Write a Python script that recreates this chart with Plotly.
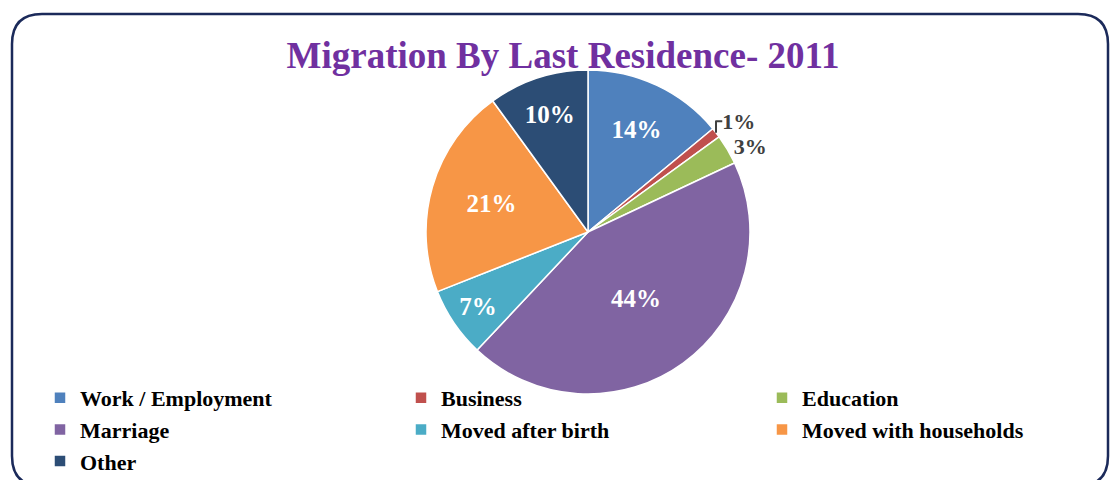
import plotly.graph_objects as go

categories = ["Work / Employment", "Business", "Education", "Marriage",
              "Moved after birth", "Moved with households", "Other"]
values = [14, 1, 3, 44, 7, 21, 10]
colors = ["#4F81BD", "#C0504D", "#9BBB59", "#8064A2", "#4BACC6", "#F79646", "#2C4D75"]

W, H = 1110, 480
def px(x): return x / W
def py(y): return 1 - y / H

SERIF = "Liberation Serif, Times New Roman, serif"

# small slices get their labels outside the pie so they stay readable
positions = ["inside" if v >= 5 else "outside" for v in values]

fig = go.Figure(go.Pie(
    labels=categories,
    values=values,
    sort=False,
    direction="clockwise",
    rotation=0,
    marker=dict(colors=colors, line=dict(color="white", width=1.5)),
    textinfo="percent",
    texttemplate="%{percent:.0%}",
    textposition=positions,
    insidetextorientation="horizontal",
    insidetextfont=dict(family=SERIF, size=25, color="white", weight="bold"),
    outsidetextfont=dict(family=SERIF, size=22, color="#404040", weight="bold"),
    hoverinfo="label+percent",
    domain=dict(x=[px(426), px(750)], y=[py(394), py(70)]),
))

# rounded border
x0, y0, x1, y1, r = 12, 14, 1108, 486, 30
path = (f"M {px(x0+r)},{py(y0)} L {px(x1-r)},{py(y0)} Q {px(x1)},{py(y0)} {px(x1)},{py(y0+r)} "
        f"L {px(x1)},{py(y1-r)} Q {px(x1)},{py(y1)} {px(x1-r)},{py(y1)} "
        f"L {px(x0+r)},{py(y1)} Q {px(x0)},{py(y1)} {px(x0)},{py(y1-r)} "
        f"L {px(x0)},{py(y0+r)} Q {px(x0)},{py(y0)} {px(x0+r)},{py(y0)} Z")

fig.update_layout(
    width=W, height=H,
    margin=dict(l=0, r=0, t=0, b=0, autoexpand=False),
    paper_bgcolor="white",
    title=dict(text="<b>Migration By Last Residence- 2011</b>",
               x=px(563), xanchor="center", y=py(55), yanchor="middle",
               font=dict(family=SERIF, size=37, color="#7030A0")),
    showlegend=True,
    legend=dict(orientation="h", x=px(40), xanchor="left", y=py(377), yanchor="top",
                entrywidth=316, entrywidthmode="pixels", itemwidth=30,
                font=dict(family=SERIF, size=22, color="black", weight="bold"),
                traceorder="normal", bgcolor="rgba(0,0,0,0)"),
    shapes=[dict(type="path", path=path, xref="paper", yref="paper",
                 line=dict(color="#1B2A5A", width=2.5), fillcolor="rgba(0,0,0,0)", layer="below")],
)

fig.write_html("out.html",
               config={"displayModeBar": False},
               post_script="document.body.style.margin='0';document.body.style.overflow='hidden';")
